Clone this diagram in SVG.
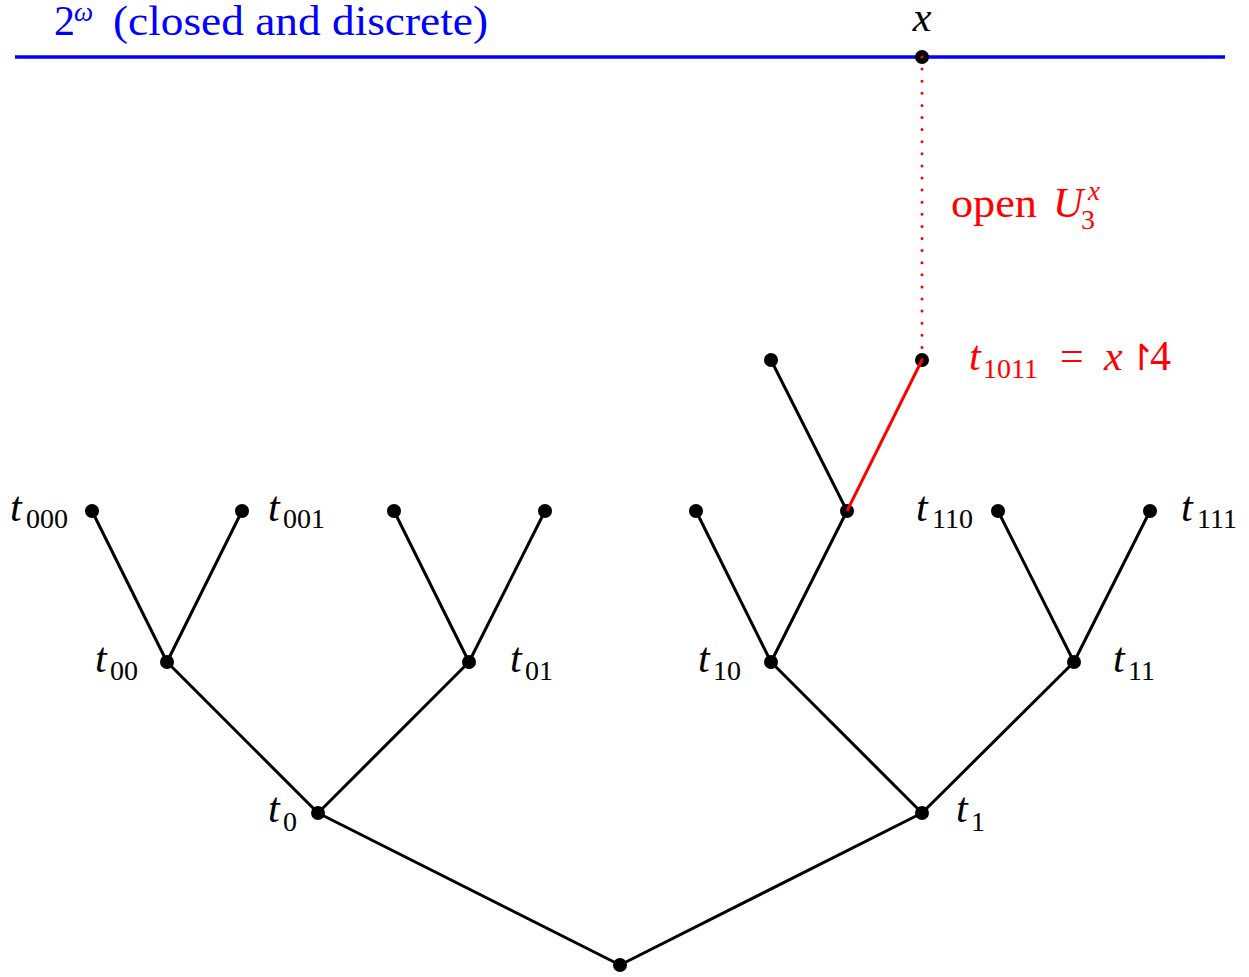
<svg xmlns="http://www.w3.org/2000/svg" width="1249" height="977" viewBox="0 0 1249 977">
<style>
text{font-family:"Liberation Serif","DejaVu Serif",serif;}
.m{font-size:42px;}
.i{font-style:italic;}
.s{font-size:28px;}
.ss{font-size:27px;}
.dot{fill:#000;}
.e{stroke:#000;stroke-width:3;fill:none;stroke-linecap:round;}
.red{fill:#ff0000;}
.blue{fill:#0000ff;}
</style>
<rect width="1249" height="977" fill="#fff"/>
<g id="space">
<line x1="15" y1="57" x2="1225" y2="57" stroke="#0000ff" stroke-width="3.5"/>
<text class="m blue" y="35"><tspan x="54">2</tspan><tspan class="ss i" x="74" y="21">ω</tspan><tspan x="113" y="35" textLength="375" lengthAdjust="spacingAndGlyphs">(closed and discrete)</tspan></text>
</g>
<g id="node-x">
<circle class="dot" cx="922" cy="57" r="7"/>
<text class="m i" x="922" y="31" text-anchor="middle">x</text>
</g>
<g id="label-open">
<text class="m red" y="217"><tspan x="951" textLength="86" lengthAdjust="spacingAndGlyphs">open</tspan><tspan class="i" x="1053">U</tspan><tspan class="s" x="1081" y="229">3</tspan><tspan class="ss i" x="1088" y="200">x</tspan></text>
</g>
<g id="node-root"><circle class="dot" cx="620" cy="965" r="7"/></g>
<g id="node-t0"><circle class="dot" cx="318" cy="813" r="7"/>
<text class="m" y="822"><tspan class="i" x="268">t</tspan><tspan class="s" x="283" y="831">0</tspan></text></g>
<g id="node-t1"><circle class="dot" cx="922" cy="813" r="7"/>
<text class="m" y="822"><tspan class="i" x="956">t</tspan><tspan class="s" x="971" y="831">1</tspan></text></g>
<g id="node-t00"><circle class="dot" cx="167" cy="662" r="7"/>
<text class="m" y="672"><tspan class="i" x="95">t</tspan><tspan class="s" x="110" y="680">00</tspan></text></g>
<g id="node-t01"><circle class="dot" cx="469" cy="662" r="7"/>
<text class="m" y="672"><tspan class="i" x="510">t</tspan><tspan class="s" x="525" y="680">01</tspan></text></g>
<g id="node-t10"><circle class="dot" cx="771" cy="662" r="7"/>
<text class="m" y="672"><tspan class="i" x="698">t</tspan><tspan class="s" x="713" y="680">10</tspan></text></g>
<g id="node-t11"><circle class="dot" cx="1074" cy="662" r="7"/>
<text class="m" y="672"><tspan class="i" x="1113">t</tspan><tspan class="s" x="1128" y="680">11</tspan></text></g>
<g id="node-t000"><circle class="dot" cx="92" cy="511" r="7"/>
<text class="m" y="521"><tspan class="i" x="10">t</tspan><tspan class="s" x="26" y="528">000</tspan></text></g>
<g id="node-t001"><circle class="dot" cx="242" cy="511" r="7"/>
<text class="m" y="521"><tspan class="i" x="268">t</tspan><tspan class="s" x="283" y="528">001</tspan></text></g>
<g id="node-t010"><circle class="dot" cx="394" cy="511" r="7"/></g>
<g id="node-t011"><circle class="dot" cx="545" cy="511" r="7"/></g>
<g id="node-t100"><circle class="dot" cx="696" cy="511" r="7"/></g>
<g id="node-t101"><circle class="dot" cx="847" cy="511" r="7"/></g>
<g id="node-t110"><circle class="dot" cx="998" cy="511" r="7"/>
<text class="m" y="521"><tspan class="i" x="916">t</tspan><tspan class="s" x="932" y="528">110</tspan></text></g>
<g id="node-t111"><circle class="dot" cx="1150" cy="511" r="7"/>
<text class="m" y="521"><tspan class="i" x="1181">t</tspan><tspan class="s" x="1197" y="528">111</tspan></text></g>
<g id="node-t1010"><circle class="dot" cx="771" cy="360" r="7"/></g>
<g id="node-t1011"><circle class="dot" cx="922" cy="360" r="7"/>
<text class="m red" y="370"><tspan class="i" x="969">t</tspan><tspan class="s" x="983" y="378">1011</tspan><tspan x="1060" y="370">=</tspan><tspan class="i" x="1104">x</tspan><tspan x="1126" style="font-family:'DejaVu Sans',sans-serif;font-size:36px">↾</tspan><tspan x="1150">4</tspan></text></g>
<g id="connectors">
<line class="e" x1="620" y1="965" x2="318" y2="813"/>
<line class="e" x1="620" y1="965" x2="922" y2="813"/>
<line class="e" x1="318" y1="813" x2="167" y2="662"/>
<line class="e" x1="318" y1="813" x2="469" y2="662"/>
<line class="e" x1="922" y1="813" x2="771" y2="662"/>
<line class="e" x1="922" y1="813" x2="1074" y2="662"/>
<line class="e" x1="167" y1="662" x2="92" y2="511"/>
<line class="e" x1="167" y1="662" x2="242" y2="511"/>
<line class="e" x1="469" y1="662" x2="394" y2="511"/>
<line class="e" x1="469" y1="662" x2="545" y2="511"/>
<line class="e" x1="771" y1="662" x2="696" y2="511"/>
<line class="e" x1="771" y1="662" x2="847" y2="511"/>
<line class="e" x1="1074" y1="662" x2="998" y2="511"/>
<line class="e" x1="1074" y1="662" x2="1150" y2="511"/>
<line class="e" x1="847" y1="511" x2="771" y2="360"/>
<line x1="847" y1="511" x2="922" y2="360" stroke="#ff0000" stroke-width="3"/>
<line x1="922" y1="57" x2="922" y2="360" stroke="#ff0000" stroke-width="3" stroke-linecap="round" stroke-dasharray="0 12.1"/>
</g>
</svg>
